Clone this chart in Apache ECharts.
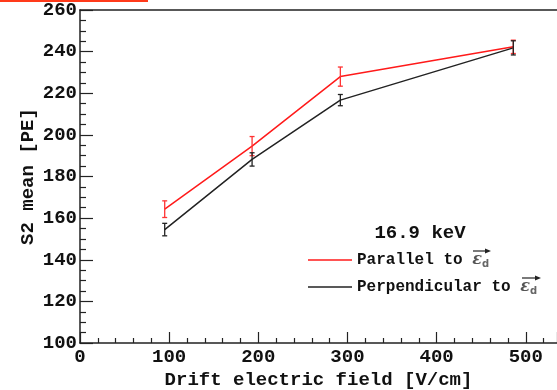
<!DOCTYPE html>
<html>
<head>
<meta charset="utf-8">
<script src="https://cdn.jsdelivr.net/npm/echarts@6/dist/echarts.min.js"></script>
<style>html,body{margin:0;padding:0;background:#fff;}#c{width:557px;height:390px;}</style>
</head>
<body>
<div id="c"></div>
<script>
// Data
const fieldValues = [95, 193, 292, 486];          // Drift electric field [V/cm]
const parallelMean = [164.3, 194.6, 228.0, 242.3]; // S2 mean [PE], parallel
const parallelErr = [4.0, 4.6, 4.6, 3.2];
const perpMean = [154.5, 188.2, 216.7, 241.8];     // S2 mean [PE], perpendicular
const perpErr = [3.0, 3.2, 2.7, 3.4];
const seriesNames = ['Parallel to', 'Perpendicular to'];
const headerText = '16.9 keV';

const FONT = '"Liberation Mono", "DejaVu Sans Mono", monospace';

function errData(mean, err) {
  return fieldValues.map((x, i) => [x, mean[i] - err[i], mean[i] + err[i]]);
}
function errSeries(mean, err, color) {
  return {
    type: 'custom',
    silent: true,
    z: 5,
    data: errData(mean, err),
    encode: { x: 0, y: [1, 2] },
    renderItem: function (params, api) {
      const x = api.value(0);
      const lo = api.coord([x, api.value(1)]);
      const hi = api.coord([x, api.value(2)]);
      const w = 2.5;
      const st = { stroke: color, lineWidth: 1.3 };
      return {
        type: 'group',
        children: [
          { type: 'line', shape: { x1: lo[0], y1: lo[1], x2: hi[0], y2: hi[1] }, style: st },
          { type: 'line', shape: { x1: lo[0] - w, y1: lo[1], x2: lo[0] + w, y2: lo[1] }, style: st },
          { type: 'line', shape: { x1: hi[0] - w, y1: hi[1], x2: hi[0] + w, y2: hi[1] }, style: st }
        ]
      };
    }
  };
}

// vector arrow drawn over the epsilon symbol in the legend
function vecArrow(x1, x2, y) {
  return {
    type: 'group', silent: true, z: 100,
    children: [
      { type: 'line', shape: { x1: x1, y1: y, x2: x2 - 3, y2: y }, style: { stroke: '#222', lineWidth: 1.2 } },
      { type: 'polygon', shape: { points: [[x2, y], [x2 - 6, y - 2.6], [x2 - 6, y + 2.6]] }, style: { fill: '#222' } }
    ]
  };
}

const chart = echarts.init(document.getElementById('c'), null, { renderer: 'canvas' });
const option = {
  animation: false,
  backgroundColor: '#fff',
  grid: { left: 80, right: 0, top: 10, bottom: 47, containLabel: false, outerBoundsMode: 'none' },
  xAxis: [{
    type: 'value', min: 0, max: 535, interval: 100,
    name: 'Drift electric field [V/cm]', nameLocation: 'middle', nameGap: 28, nameMoveOverlap: false,
    nameTextStyle: { fontFamily: FONT, fontWeight: 'bold', fontSize: 19, color: '#111' },
    axisLine: { show: true, onZero: false, lineStyle: { color: '#222', width: 1.5 } },
    axisTick: { show: true, inside: true, length: 11, lineStyle: { color: '#222', width: 1.2 } },
    minorTick: { show: true, splitNumber: 5, length: 5, lineStyle: { color: '#222', width: 1.2 } },
    axisLabel: { fontFamily: FONT, fontWeight: 'bold', fontSize: 19, color: '#111', margin: 5, showMaxLabel: false },
    splitLine: { show: false }
  }, {
    type: 'value', position: 'top', min: 0, max: 535,
    axisLine: { show: true, lineStyle: { color: '#222', width: 1.5 } },
    axisTick: { show: false }, axisLabel: { show: false }, splitLine: { show: false }
  }],
  yAxis: {
    type: 'value', min: 100, max: 260, interval: 20,
    name: 'S2 mean [PE]', nameLocation: 'middle', nameGap: 42, nameRotate: 90, nameMoveOverlap: false,
    nameTextStyle: { fontFamily: FONT, fontWeight: 'bold', fontSize: 19, color: '#111' },
    axisLine: { show: true, lineStyle: { color: '#222', width: 1.5 } },
    axisTick: { show: true, inside: true, length: 13, lineStyle: { color: '#222', width: 1.2 } },
    minorTick: { show: true, splitNumber: 4, length: 6, lineStyle: { color: '#222', width: 1.2 } },
    axisLabel: { fontFamily: FONT, fontWeight: 'bold', fontSize: 19, color: '#111', margin: 3 },
    splitLine: { show: false }
  },
  title: {
    text: headerText, left: 415, top: 219, textAlign: 'center',
    textStyle: { fontFamily: FONT, fontWeight: 'bold', fontSize: 19, color: '#111' }
  },
  legend: {
    orient: 'vertical', left: 303, top: 245, itemWidth: 44, itemHeight: 1.6, itemGap: 7,
    icon: 'rect', data: seriesNames,
    formatter: function (name) { return '{t|' + name + ' }{e|ε}{d|d}'; },
    textStyle: {
      fontFamily: FONT, fontWeight: 'bold', fontSize: 16, color: '#111', lineHeight: 20,
      rich: {
        t: { fontFamily: FONT, fontWeight: 'bold', fontSize: 16, color: '#111' },
        e: { fontFamily: '"DejaVu Serif", serif', fontStyle: 'italic', fontSize: 16, color: '#555' },
        d: { fontFamily: '"DejaVu Sans", sans-serif', fontSize: 10, color: '#666', padding: [8, 0, 0, 0] }
      }
    }
  },
  graphic: [
    { type: 'rect', shape: { x: 0, y: 0, width: 148, height: 2 }, style: { fill: '#ff3a1a' } },
    vecArrow(473, 491, 251),
    vecArrow(522, 541, 278)
  ],
  series: [
    {
      name: seriesNames[0], type: 'line', color: '#ff1a1a', showSymbol: false, z: 4,
      lineStyle: { width: 1.5, color: '#ff1a1a' },
      data: fieldValues.map((x, i) => [x, parallelMean[i]])
    },
    {
      name: seriesNames[1], type: 'line', color: '#222', showSymbol: false, z: 4,
      lineStyle: { width: 1.5, color: '#222' },
      data: fieldValues.map((x, i) => [x, perpMean[i]])
    },
    errSeries(parallelMean, parallelErr, '#ff3333'),
    errSeries(perpMean, perpErr, '#222')
  ]
};
chart.setOption(option);
</script>
</body>
</html>
